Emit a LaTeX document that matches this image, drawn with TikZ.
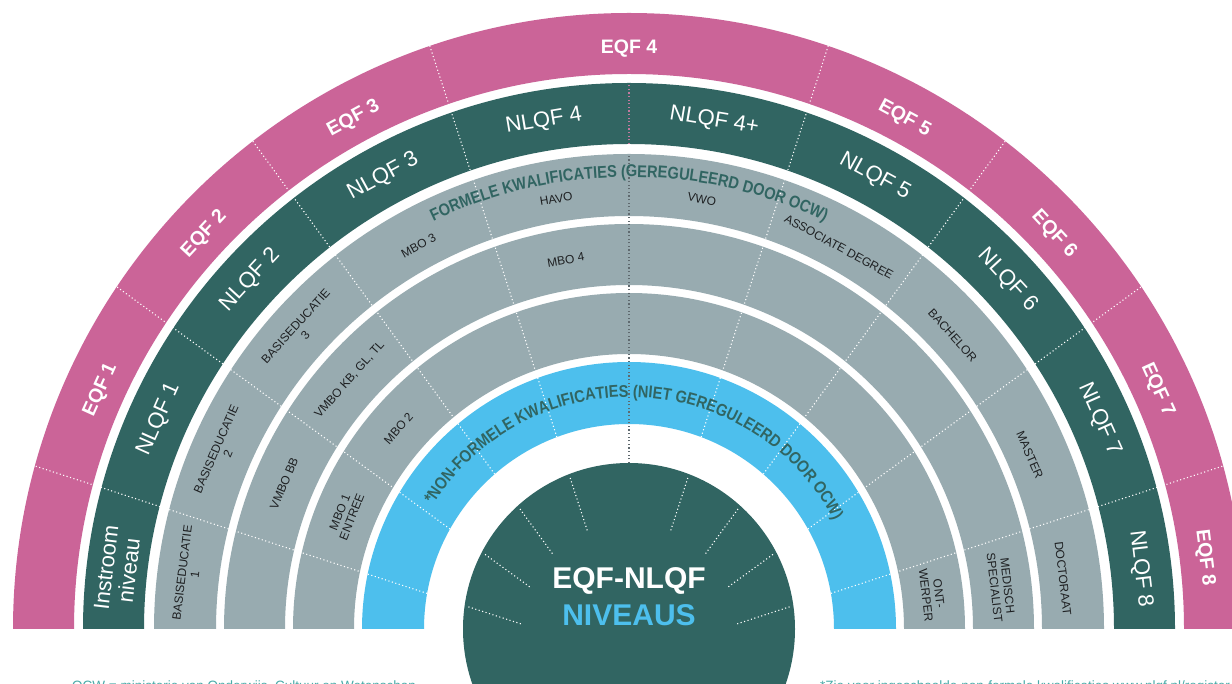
\documentclass[tikz,border=0pt]{standalone}
\usepackage{fontspec}
\setmainfont{Liberation Sans}
\newfontfamily\curvfont[FakeStretch=0.86]{Liberation Sans}
\usetikzlibrary{decorations.text}
\definecolor{pinkc}{RGB}{203,100,152}
\definecolor{dgreen}{RGB}{49,101,98}
\definecolor{grayc}{RGB}{152,171,176}
\definecolor{bluec}{RGB}{77,191,237}
\definecolor{labtext}{RGB}{30,32,34}
\definecolor{footc}{RGB}{72,170,168}
\definecolor{midline}{RGB}{95,105,110}
\definecolor{midpink}{RGB}{196,122,160}
\newcommand\curvstyle{\curvfont\bfseries\fontsize{17}{17}\selectfont\color{dgreen}}
% distance t along a ray from P0 (30px below C) at angle #1 to reach radius #2 around C
\newcommand\rayt[2]{\pgfmathsetmacro\rayT{100*(0.3*sin(#1)+sqrt(0.09*sin(#1)*sin(#1)-0.09+(#2/100)*(#2/100)))}}
\newcommand\seglab[5]{%
  \rayt{#2}{#3}%
  \pgfmathsetmacro\segX{\rayT*cos(#2)}%
  \pgfmathsetmacro\segY{\rayT*sin(#2)-30}%
  \pgfmathsetmacro\segA{atan2(\segY,\segX)-90}%
  \node[#4,rotate=\segA] (#1) at ([shift={(\segX,\segY)}]C) {#5};}
\newcommand\divline[4]{%
  \rayt{#1}{#2}\let\divA\rayT
  \rayt{#1}{#3}\let\divB\rayT
  \draw[#4] ([shift={(#1:\divA)}]P0) -- ([shift={(#1:\divB)}]P0);}
\newcommand\band[3]{%
  \fill[#3] ([shift={(0:#2)}]C) arc[start angle=0,end angle=180,radius=#2]
    -- ([shift={(180:#1)}]C) arc[start angle=180,end angle=0,radius=#1] -- cycle;}
\begin{document}
\begin{tikzpicture}[x=1pt,y=1pt,
  divw/.style={white,line width=1.1pt,dash pattern=on 1.1pt off 2.5pt},
  eqflab/.style={text=white,font=\bfseries\fontsize{19.5}{20}\selectfont,inner sep=0pt},
  nlqflab/.style={text=white,font=\fontsize{22}{23}\selectfont,inner sep=0pt,align=center},
  glab/.style={text=labtext,font=\fontsize{12}{13}\selectfont,inner sep=0pt,align=center},
  foot/.style={text=footc,font=\fontsize{13.5}{14}\selectfont,inner sep=0pt,anchor=north west}]
\clip (0,0) rectangle (1232,683);
\fill[white] (0,0) rectangle (1232,683);
\coordinate (C) at (629,54);
\coordinate (P0) at (629,24);
% rings
\band{555}{616}{pinkc}
\band{485}{546}{dgreen}
\band{413}{475}{grayc}
\band{344}{405}{grayc}
\band{275}{336}{grayc}
\band{205}{267}{bluec}
\fill[dgreen] (C) circle[radius=166];
% dividers
\foreach \a in {18,36,54,72,108,126,144,162}{\divline{\a}{205}{616}{divw}}
\draw[divw,midline] ([yshift=166pt]C) -- ([yshift=475pt]C);
\draw[divw,midpink] ([yshift=485pt]C) -- ([yshift=546pt]C);
\foreach \a in {18,36,54,72,108,126,144,162}{%
  \rayt{\a}{163}\pgfmathsetmacro\cin{\rayT-56}%
  \draw[divw] ([shift={(\a:\cin)}]P0) -- ([shift={(\a:\rayT)}]P0);}
% EQF labels
\seglab{eqf8}{10}{580}{eqflab}{EQF 8}
\seglab{eqf7}{27}{580}{eqflab}{EQF 7}
\seglab{eqf6}{45}{580}{eqflab}{EQF 6}
\seglab{eqf5}{63}{580}{eqflab}{EQF 5}
\seglab{eqf4}{90}{580}{eqflab}{EQF 4}
\seglab{eqf3}{117}{580}{eqflab}{EQF 3}
\seglab{eqf2}{135}{580}{eqflab}{EQF 2}
\seglab{eqf1}{153}{580}{eqflab}{EQF 1}
% NLQF labels
\seglab{nlqf8}{10}{515}{nlqflab}{NLQF 8}
\seglab{nlqf7}{27}{515}{nlqflab}{NLQF 7}
\seglab{nlqf6}{45}{515}{nlqflab}{NLQF 6}
\seglab{nlqf5}{63}{515}{nlqflab}{NLQF 5}
\seglab{nlqf4p}{81}{515}{nlqflab}{NLQF 4+}
\seglab{nlqf4}{99}{515}{nlqflab}{NLQF 4}
\seglab{nlqf3}{117}{515}{nlqflab}{NLQF 3}
\seglab{nlqf2}{135}{515}{nlqflab}{NLQF 2}
\seglab{nlqf1}{153}{515}{nlqflab}{NLQF 1}
\seglab{instroom}{170}{515}{nlqflab}{Instroom\\niveau}
% outer gray ring
\seglab{doct}{10.5}{437}{glab}{DOCTORAAT}
\seglab{master}{27}{437}{glab}{MASTER}
\seglab{bachelor}{45}{437}{glab}{BACHELOR}
\seglab{assoc}{63}{436}{glab}{ASSOCIATE DEGREE}
\seglab{vwo}{81}{436}{glab}{VWO}
\seglab{havo}{99}{436}{glab}{HAVO}
\seglab{mbo3}{117}{437}{glab}{MBO 3}
\seglab{basis3}{135}{444}{glab}{BASISEDUCATIE\\3}
\seglab{basis2}{153}{444}{glab}{BASISEDUCATIE\\2}
\seglab{basis1}{169}{444}{glab}{BASISEDUCATIE\\1}
% middle gray ring
\seglab{medisch}{11}{374.5}{glab}{MEDISCH\\SPECIALIST}
\seglab{mbo4}{99}{374.5}{glab}{MBO 4}
\seglab{vmbokb}{135}{374.5}{glab}{VMBO KB, GL, TL}
\seglab{vmbobb}{153}{374.5}{glab}{VMBO BB}
% inner gray ring
\seglab{ontwerper}{12}{305.5}{glab}{ONT-\\WERPER}
\seglab{mbo2}{135}{305.5}{glab}{MBO 2}
\seglab{mbo1}{153}{305.5}{glab}{MBO 1\\ENTREE}
% curved titles
\path[decorate,decoration={text along path,text align=center,
  text={|\curvstyle|FORMELE KWALIFICATIES (GEREGULEERD DOOR OCW)}}]
  ([shift={(180:452)}]C) arc[start angle=180,end angle=0,radius=452];
\path[decorate,decoration={text along path,text align=center,
  text={|\curvstyle|*NON-FORMELE KWALIFICATIES (NIET GEREGULEERD DOOR OCW)}}]
  ([shift={(175.6:232)}]C) arc[start angle=175.6,end angle=0,radius=232];
% centre
\node[text=white,font=\bfseries\fontsize{30}{30}\selectfont,inner sep=0pt,anchor=base] (title1) at (629,94) {EQF-NLQF};
\node[text=bluec,font=\bfseries\fontsize{30}{30}\selectfont,inner sep=0pt,anchor=base] (title2) at (629,57.3) {NIVEAUS};
% footnotes
\node[foot] (ocw) at (72,2) {OCW = ministerie van Onderwijs, Cultuur en Wetenschap};
\node[foot] (zie) at (820,2) {*Zie voor ingeschaalde non-formele kwalificaties www.nlqf.nl/register};
\end{tikzpicture}
\end{document}
